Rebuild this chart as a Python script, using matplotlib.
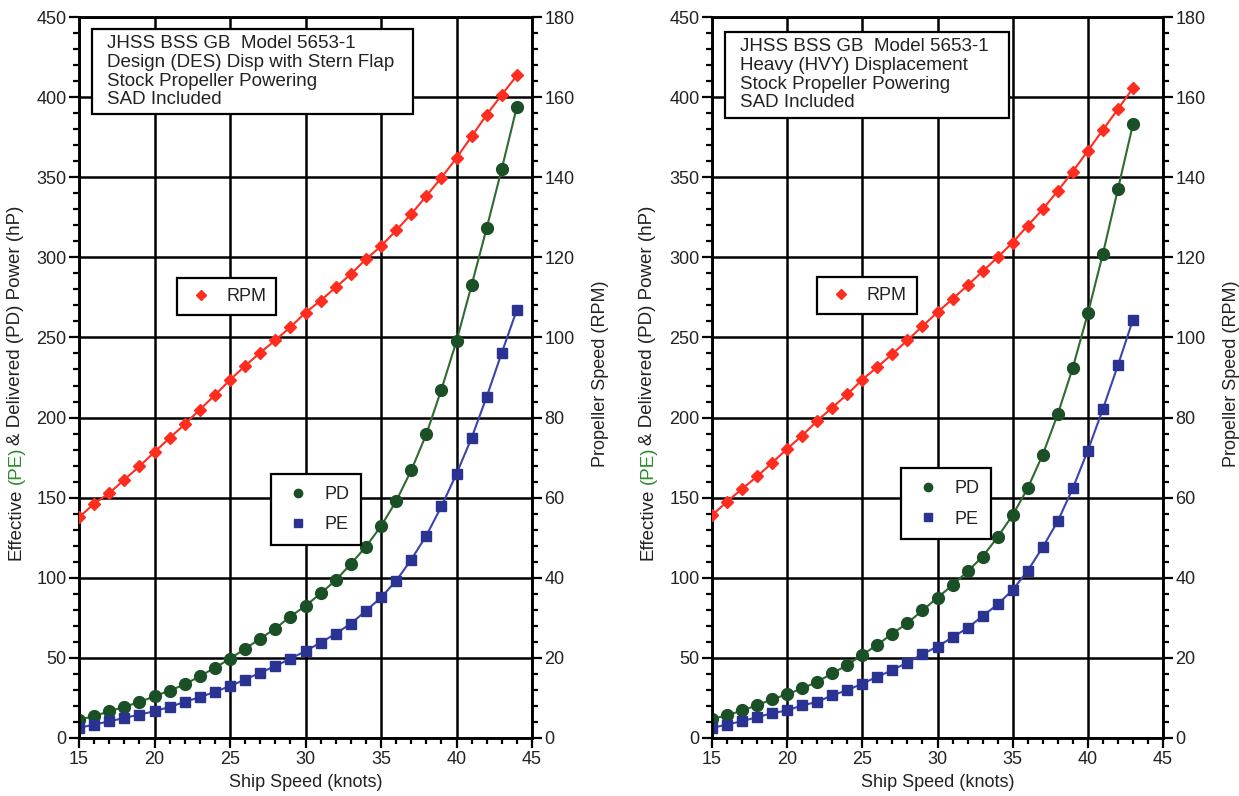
import numpy as np
import matplotlib
matplotlib.use('Agg')
import matplotlib.pyplot as plt
from matplotlib.lines import Line2D
from matplotlib.patches import Rectangle
from matplotlib.ticker import MultipleLocator

plt.rcParams['font.family'] = ['Liberation Sans', 'DejaVu Sans']

# 数据：设计排水量（左图）
speed_des = list(range(15, 45))
rpm_des = [55.1, 58.5, 61.1, 64.5, 67.8, 71.4, 74.9, 78.3, 82.0, 85.6,
           89.4, 92.9, 96.2, 99.3, 102.6, 106.2, 109.2, 112.5, 115.8, 119.5,
           122.8, 126.7, 130.8, 135.3, 139.9, 144.8, 150.2, 155.6, 160.6, 165.4]
pd_des = [11.5, 13.6, 16.7, 19.4, 22.5, 26.0, 29.6, 33.4, 38.6, 43.8,
          49.5, 55.7, 62.0, 68.3, 75.8, 82.5, 90.2, 98.5, 108.6, 119.4,
          132.2, 147.8, 167.0, 189.6, 217.5, 247.7, 282.7, 318.3, 355.3, 394.0]
pe_des = [6.3, 8.4, 10.4, 12.5, 14.6, 16.7, 19.4, 22.5, 25.5, 28.8,
          32.4, 36.5, 40.7, 44.9, 49.5, 54.3, 59.5, 65.1, 71.4, 79.3,
          87.7, 98.1, 111.3, 126.3, 144.5, 164.9, 187.3, 213.0, 240.5, 267.3]

# 数据：重载排水量（右图）
speed_hvy = list(range(15, 44))
rpm_hvy = [55.6, 59.0, 62.2, 65.3, 68.7, 72.2, 75.5, 79.2, 82.5, 85.8,
           89.5, 92.6, 95.9, 99.3, 102.8, 106.3, 109.6, 113.0, 116.5, 120.0,
           123.7, 127.9, 132.0, 136.6, 141.4, 146.6, 151.8, 157.0, 162.2]
pd_hvy = [12.0, 14.1, 17.2, 20.4, 24.2, 27.3, 30.9, 35.1, 40.3, 45.6,
          51.9, 58.2, 65.1, 71.8, 79.6, 87.6, 95.4, 104.0, 113.2, 125.4,
          139.1, 155.9, 176.9, 202.1, 231.1, 265.0, 302.1, 342.5, 383.0]
pe_hvy = [6.3, 8.4, 10.5, 13.0, 15.5, 17.2, 20.4, 22.5, 26.7, 29.8,
          34.0, 38.2, 42.4, 47.1, 52.3, 57.1, 62.8, 68.7, 76.1, 83.4,
          92.4, 104.4, 119.1, 135.3, 155.9, 179.4, 205.3, 232.6, 261.0]

title_des = "JHSS BSS GB  Model 5653-1\nDesign (DES) Disp with Stern Flap\nStock Propeller Powering\nSAD Included"
title_hvy = "JHSS BSS GB  Model 5653-1\nHeavy (HVY) Displacement\nStock Propeller Powering\nSAD Included"

RED = '#ff2d1f'
GREEN = '#1b4f26'
GREEN_LINE = '#2f6a30'
BLUE = '#2a3392'
TXT = '#222222'
FS = 13

W, H = 1239, 796
fig = plt.figure(figsize=(W / 100, H / 100), dpi=100)


def make_panel(left_px, width_px, speed, rpm, pd, pe, title, box, rpm_leg, pp_leg):
    ax = fig.add_axes([left_px / W, 58 / H, width_px / W, 721 / H])
    ax2 = ax.twinx()

    ax.plot(speed, pd, color=GREEN_LINE, lw=1.5, marker='o', ms=8.5,
            mfc=GREEN, mec=GREEN, zorder=4)
    ax.plot(speed, pe, color='#3b43b0', lw=1.5, marker='s', ms=7.5,
            mfc=BLUE, mec=BLUE, zorder=4)
    ax2.plot(speed, rpm, color=RED, lw=1.5, marker='D', ms=6,
             mfc=RED, mec=RED, zorder=4)

    ax.set_xlim(15, 45)
    ax.set_ylim(0, 450)
    ax2.set_ylim(0, 180)
    ax.xaxis.set_major_locator(MultipleLocator(5))
    ax.xaxis.set_minor_locator(MultipleLocator(1))
    ax.yaxis.set_major_locator(MultipleLocator(50))
    ax.yaxis.set_minor_locator(MultipleLocator(10))
    ax2.yaxis.set_major_locator(MultipleLocator(20))
    ax2.yaxis.set_minor_locator(MultipleLocator(4))

    ax.grid(True, which='major', color='black', lw=1.8)
    for a in (ax, ax2):
        for sp in a.spines.values():
            sp.set_linewidth(1.8)
        a.tick_params(which='major', direction='out', length=7, width=1.6,
                      labelsize=FS, labelcolor=TXT, pad=2)
        a.tick_params(which='minor', direction='out', length=4, width=1.6)
    ax.tick_params(which='both', top=False, right=False)

    ax.set_xlabel('Ship Speed (knots)', fontsize=13, color=TXT, labelpad=5)
    ax2.set_ylabel('Propeller Speed (RPM)', fontsize=13, color=TXT)
    ax2.yaxis.set_label_coords(1.133, 0.505)

    # 说明文字框
    x0, y0, x1, y1 = box
    ax2.add_patch(Rectangle((x0, y0), x1 - x0, y1 - y0, transform=ax2.transAxes,
                            fc='white', ec='black', lw=1.6, zorder=9))
    ax2.text(x0 + 0.033, y1 - 0.008, title, transform=ax2.transAxes, ha='left',
             va='top', fontsize=13.5, color=TXT, linespacing=1.14, zorder=10)

    h_rpm = [Line2D([], [], ls='none', marker='D', ms=5, color=RED)]
    leg1 = ax2.legend(h_rpm, ['RPM'], loc='upper left', bbox_to_anchor=rpm_leg,
                      fontsize=FS, frameon=True, fancybox=False, framealpha=1,
                      edgecolor='black', borderpad=0.55, handletextpad=0.6,
                      handlelength=1.6, borderaxespad=0, labelcolor=TXT)
    leg1.get_frame().set_linewidth(1.6)
    leg1.set_zorder(10)
    ax2.add_artist(leg1)

    h_pp = [Line2D([], [], ls='none', marker='o', ms=6, color=GREEN),
            Line2D([], [], ls='none', marker='s', ms=5.5, color=BLUE)]
    leg2 = ax2.legend(h_pp, ['PD', 'PE'], loc='upper left', bbox_to_anchor=pp_leg,
                      fontsize=FS, frameon=True, fancybox=False, framealpha=1,
                      edgecolor='black', borderpad=0.65, handletextpad=0.6,
                      handlelength=1.7, labelspacing=0.75, borderaxespad=0,
                      labelcolor=TXT)
    leg2.get_frame().set_linewidth(1.6)
    leg2.set_zorder(10)
    return ax, ax2


def colored_ylabel(x_px, yc_px, parts, fs):
    # 分段绘制纵轴标题，使 (PE) 显示为绿色；位置按前缀长度计算
    fig.canvas.draw()
    r = fig.canvas.get_renderer()
    full = ' '.join(s for s, c in parts)

    def length(s):
        t = fig.text(0, 0, s, rotation=90, fontsize=fs)
        L = t.get_window_extent(r).height
        t.remove()
        return L

    total = length(full)
    y0 = (H - yc_px) - total / 2
    prefix = ''
    shift = 0
    for i, (s, c) in enumerate(parts):
        prefix = (prefix + ' ' + s) if prefix else s
        end = y0 + length(prefix)
        if i == 2:
            shift = -4
        fig.text(x_px / W, (end + shift) / H, s, color=c, rotation=90,
                 ha='center', va='top', fontsize=fs)


make_panel(79, 453, speed_des, rpm_des, pd_des, pe_des, title_des,
           (0.029, 0.865, 0.737, 0.983), (0.216, 0.638), (0.424, 0.366))
make_panel(712, 451, speed_hvy, rpm_hvy, pd_hvy, pe_hvy, title_hvy,
           (0.029, 0.860, 0.659, 0.979), (0.233, 0.639), (0.419, 0.374))

label_parts = [('Effective', TXT), ('(PE)', '#2e8b2e'), ('& Delivered (PD) Power (hP)', TXT)]
colored_ylabel(16, 381, label_parts, 13.5)
colored_ylabel(648, 381, label_parts, 13.5)

fig.savefig('out.png', dpi=100)
